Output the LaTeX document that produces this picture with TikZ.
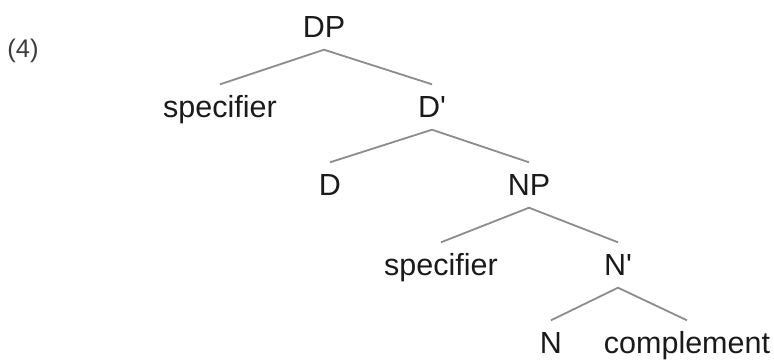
\documentclass[tikz,border=0pt]{standalone}
\usepackage{fontspec}
\setmainfont{Liberation Sans}
\definecolor{branch}{HTML}{8C8C8C}
\definecolor{ink}{HTML}{1A1A1A}
\begin{document}
\begin{tikzpicture}[x=1pt,y=-1pt,
  lab/.style={font=\fontsize{30.5}{36}\selectfont, text=ink, anchor=base, text height=22pt, text depth=2pt, inner xsep=0pt, inner ysep=10.5pt},
  br/.style={draw=branch, line width=1.8pt}]
\useasboundingbox (0,0) rectangle (774,360);
\node[font=\fontsize{25.5}{30}\selectfont, text=ink!85, anchor=base, inner sep=0pt] (ex) at (23,57) {(4)};
\node[lab] (dp) at (324,37) {DP};
\node[lab] (spec1) at (220,117) {specifier};
\node[lab] (dbar) at (432,117) {D\textquotesingle};
\node[lab] (d) at (330,195) {D};
\node[lab] (np) at (529,195) {NP};
\node[lab] (spec2) at (441,275) {specifier};
\node[lab] (nbar) at (618,275) {N\textquotesingle};
\node[lab] (n) at (551,353) {N};
\node[lab] (comp) at (687,353) {complement};
\draw[br] (spec1.north) -- (dp.south) -- (dbar.north);
\draw[br] (d.north) -- (dbar.south) -- (np.north);
\draw[br] (spec2.north) -- (np.south) -- (nbar.north);
\draw[br] (n.north) -- (nbar.south) -- (comp.north);
\end{tikzpicture}
\end{document}
